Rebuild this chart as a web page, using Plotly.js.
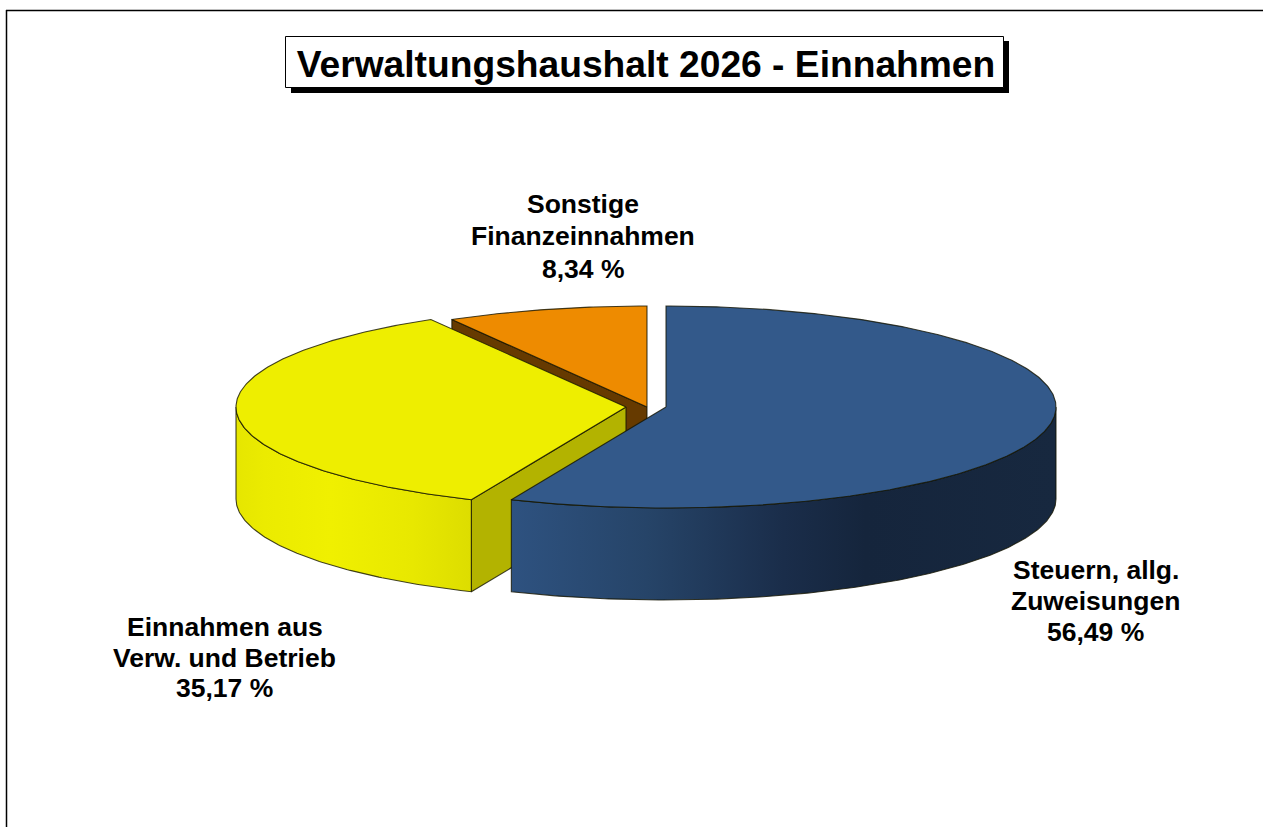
<!DOCTYPE html>
<html><head><meta charset="utf-8">
<script src="https://cdn.plot.ly/plotly-3.0.1.min.js"></script>
<style>html,body{margin:0;padding:0;background:#fff;overflow:hidden}#chart{width:1263px;height:827px}</style>
</head><body><div id="chart"></div>
<script>
// Data
const titleText = 'Verwaltungshaushalt 2026 - Einnahmen';
const categories = ['Steuern, allg. Zuweisungen', 'Einnahmen aus Verw. und Betrieb', 'Sonstige Finanzeinnahmen'];
const values = [56.49, 35.17, 8.34];
const valueLabels = ['56,49 %', '35,17 %', '8,34 %'];
const labelLines = [['Steuern, allg.', 'Zuweisungen'], ['Einnahmen aus', 'Verw. und Betrieb'], ['Sonstige', 'Finanzeinnahmen']];

// Look of the drawing (pixel-mapped axes)
const RX = 390, RY = 101, DEPTH = 92, CY = 407;
const centerX = [666, 626, 647];
const labelX = [1095.5, 224.5, 583], labelY = [570, 627, 203.5], labelPitch = [31, 30.5, 32.5];
const topColors = ['#33598a', '#eeee00', '#ee8b00'];
const cutColors = [null, '#b3b300', '#663a00'];
const edge = 'rgba(20,20,0,0.8)';
const wallScales = [
  [[0, '#2e5280'], [0.25, '#264468'], [0.5, '#1a2d4a'], [0.65, '#15253c'], [1, '#17283f']],
  [[0, '#e6e600'], [0.12, '#ebeb00'], [0.4, '#f0f000'], [0.75, '#e8e800'], [1, '#dddd00']],
  null
];

// Geometry from values: angle runs clockwise from 12 o'clock
const total = values.reduce((a, b) => a + b, 0);
let run = 0;
const slices = values.map((v, i) => {
  const a0 = run / total * 2 * Math.PI; run += v;
  return { a0, a1: run / total * 2 * Math.PI, cx: centerX[i] };
});
const px = (s, a) => s.cx + RX * Math.sin(a);
const py = (a, dz) => CY - RY * Math.cos(a) + dz;
function arc(s, from, to, dz) {
  const n = Math.max(2, Math.ceil(Math.abs(to - from) / 0.01));
  const xs = [], ys = [];
  for (let k = 0; k <= n; k++) {
    const a = from + (to - from) * k / n;
    xs.push(px(s, a)); ys.push(py(a, dz));
  }
  return [xs, ys];
}
const poly = (x, y, extra) => Object.assign({
  x, y, type: 'scatter', mode: 'lines', fill: 'toself', hoverinfo: 'skip', showlegend: false,
  line: { color: edge, width: 1.1 }
}, extra);
function topFace(s, color, name) {
  const [x, y] = arc(s, s.a0, s.a1, 0);
  return poly([s.cx, ...x, s.cx], [CY, ...y, CY], { fillcolor: color, name });
}
function cutWall(s, a, color) {
  return poly([s.cx, px(s, a), px(s, a), s.cx, s.cx],
    [CY, py(a, 0), py(a, DEPTH), CY + DEPTH, CY], { fillcolor: color });
}
function outerWall(s, from, to, scale) {
  const [x1, y1] = arc(s, from, to, 0), [x2, y2] = arc(s, to, from, DEPTH);
  return poly([...x1, ...x2, x1[0]], [...y1, ...y2, y1[0]],
    { fillgradient: { type: 'horizontal', colorscale: scale } });
}
const [sBlue, sYellow, sOrange] = slices;
const traces = [
  cutWall(sOrange, sOrange.a0, cutColors[2]),
  topFace(sOrange, topColors[2], categories[2]),
  cutWall(sYellow, sYellow.a0, cutColors[1]),
  outerWall(sYellow, sYellow.a0, 1.5 * Math.PI, wallScales[1]),
  topFace(sYellow, topColors[1], categories[1]),
  outerWall(sBlue, 0.5 * Math.PI, sBlue.a1, wallScales[0]),
  topFace(sBlue, topColors[0], categories[0])
];

const annotations = [];
labelLines.forEach((lines, i) => {
  [...lines, valueLabels[i]].forEach((t, k) => annotations.push({
    text: '<b>' + t + '</b>', x: labelX[i], y: labelY[i] + k * labelPitch[i], xref: 'x', yref: 'y',
    showarrow: false, xanchor: 'center', yanchor: 'middle',
    font: { family: 'Liberation Sans', size: 26.5, color: '#000' }
  }));
});

const layout = {
  width: 1263, height: 827, margin: { l: 0, r: 0, t: 0, b: 0 },
  paper_bgcolor: '#fff', plot_bgcolor: '#fff', showlegend: false,
  xaxis: { range: [0, 1263], visible: false, fixedrange: true },
  yaxis: { range: [827, 0], visible: false, fixedrange: true },
  title: { text: '<b>' + titleText + '</b>', x: 646 / 1263, xanchor: 'center', xref: 'paper',
    y: 1 - 63.5 / 827, yanchor: 'middle', yref: 'paper', font: { family: 'Liberation Sans', size: 37.2, color: '#000' } },
  annotations,
  shapes: [
    { type: 'line', xref: 'x', yref: 'y', x0: 6.5, x1: 6.5, y0: 10, y1: 827, line: { color: '#000', width: 1.5 }, layer: 'below' },
    { type: 'line', xref: 'x', yref: 'y', x0: 6, x1: 1263, y0: 10.5, y1: 10.5, line: { color: '#000', width: 1.5 }, layer: 'below' },
    { type: 'rect', xref: 'x', yref: 'y', x0: 291, x1: 1009, y0: 41, y1: 93, fillcolor: '#000', line: { width: 0 }, layer: 'below' },
    { type: 'rect', xref: 'x', yref: 'y', x0: 285.5, x1: 1003.5, y0: 36.5, y1: 87.5, fillcolor: '#fff', line: { color: '#000', width: 1 }, layer: 'below' }
  ]
};
Plotly.newPlot('chart', traces, layout, { displayModeBar: false, staticPlot: true });
</script></body></html>
